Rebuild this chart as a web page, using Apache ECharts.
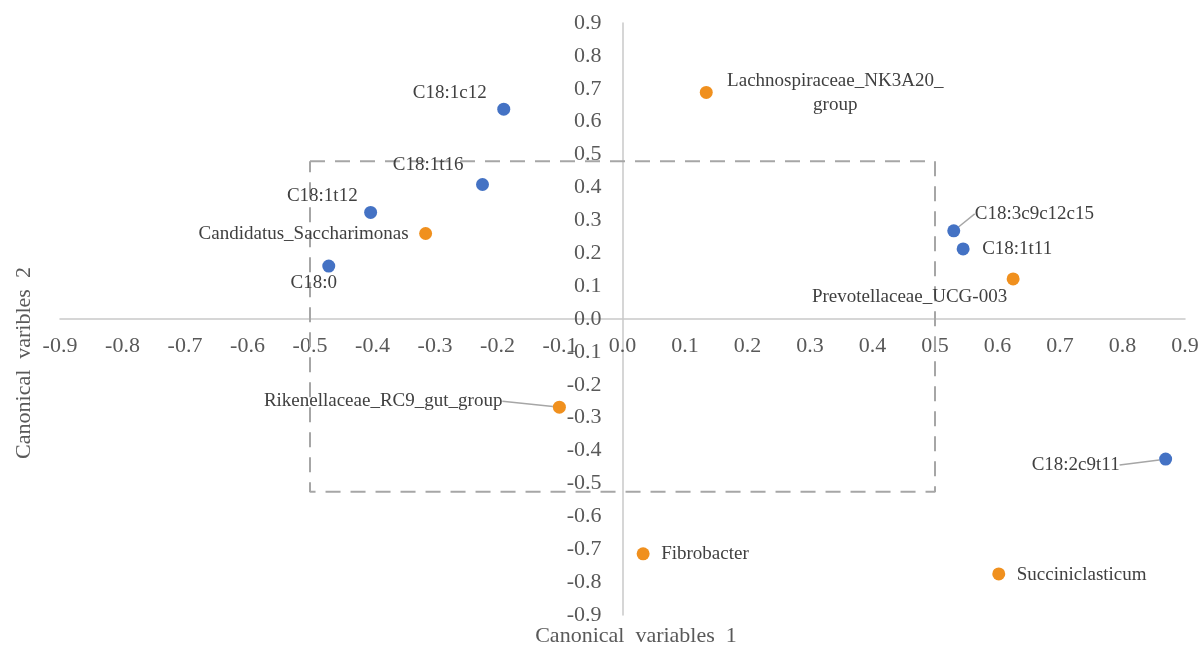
<!DOCTYPE html>
<html>
<head>
<meta charset="utf-8">
<script src="https://cdn.jsdelivr.net/npm/echarts@6/dist/echarts.min.js"></script>
<style>
html,body{margin:0;padding:0;background:#fff;}
#chart{width:1203px;height:653px;}
</style>
</head>
<body>
<div id="chart"></div>
<script>
// ---- data ----
const fattyNames = ['C18:1c12', 'C18:1t16', 'C18:1t12', 'C18:0', 'C18:3c9c12c15', 'C18:1t11', 'C18:2c9t11'];
const fattyX = [-0.19, -0.224, -0.403, -0.47, 0.53, 0.545, 0.869];
const fattyY = [0.638, 0.409, 0.324, 0.161, 0.268, 0.213, -0.426];

const bacteriaNames = ['Lachnospiraceae_NK3A20_\ngroup', 'Candidatus_Saccharimonas', 'Prevotellaceae_UCG-003', 'Rikenellaceae_RC9_gut_group', 'Fibrobacter', 'Succiniclasticum'];
const bacteriaX = [0.134, -0.315, 0.625, -0.101, 0.033, 0.602];
const bacteriaY = [0.689, 0.26, 0.122, -0.268, -0.714, -0.775];

const boxX = [-0.5, 0.5, 0.5, -0.5, -0.5];
const boxY = [0.48, 0.48, -0.525, -0.525, 0.48];

const axisMin = -0.9, axisMax = 0.9, axisStep = 0.1;
const xTitle = 'Canonical  variables  1';
const yTitle = 'Canonical  varibles  2';

// ---- label placement (style only) ----
const labelStyle = {
  'C18:1c12': {dx: -17, dy: -16, align: 'right'},
  'C18:1t16': {dx: -19, dy: -19, align: 'right'},
  'C18:1t12': {dx: -13, dy: -16, align: 'right'},
  'C18:0': {dx: -15, dy: 17, align: 'center'},
  'C18:3c9c12c15': {dx: 21, dy: -17, align: 'left', line: true},
  'C18:1t11': {dx: 19, dy: 0, align: 'left'},
  'C18:2c9t11': {dx: -46, dy: 6, align: 'right', line: true},
  'Lachnospiraceae_NK3A20_\ngroup': {dx: 129, dy: 1, align: 'center'},
  'Candidatus_Saccharimonas': {dx: -17, dy: 1, align: 'right'},
  'Prevotellaceae_UCG-003': {dx: -6, dy: 18, align: 'right'},
  'Rikenellaceae_RC9_gut_group': {dx: -57, dy: -6, align: 'right', line: true},
  'Fibrobacter': {dx: 18, dy: 0, align: 'left'},
  'Succiniclasticum': {dx: 18, dy: 1, align: 'left'}
};

const FONT = '"Liberation Serif", "Times New Roman", serif';
const W = 1203, H = 653;
const GRID = {left: 60, right: 18, top: 23, bottom: 38};
const gridW = W - GRID.left - GRID.right;
const gridH = H - GRID.top - GRID.bottom;

function buildData(names, xs, ys) {
  return names.map((n, i) => {
    const item = {name: n, value: [xs[i], ys[i]]};
    if (labelStyle[n] && labelStyle[n].line) item.labelLine = {show: true};
    return item;
  });
}
const seriesNames = [fattyNames, bacteriaNames];

function layoutFn(params) {
  const names = seriesNames[params.seriesIndex - 1];
  if (!names) return {};
  const n = names[params.dataIndex];
  const s = labelStyle[n] || {dx: 10, dy: 0, align: 'left'};
  const cx = params.rect.x + params.rect.width / 2;
  const cy = params.rect.y + params.rect.height / 2;
  return {x: cx + s.dx, y: cy + s.dy, align: s.align, verticalAlign: 'middle'};
}

function fmt(v) {
  if (Math.abs(v) < 1e-9) return '0.0';
  return v.toFixed(1);
}

// zero sits at the middle of the symmetric range: shift each axis inward to cross at zero
const zeroFracX = (0 - axisMin) / (axisMax - axisMin);
const zeroFracY = (0 - axisMin) / (axisMax - axisMin);

const chart = echarts.init(document.getElementById('chart'));
const axisCommon = {
  type: 'value',
  min: axisMin, max: axisMax, interval: axisStep,
  splitLine: {show: false},
  axisTick: {show: false},
  axisLine: {onZero: false, lineStyle: {color: '#C9C9C9', width: 1.5}},
  axisLabel: {color: '#595959', fontFamily: FONT, fontSize: 22, formatter: fmt, showMinLabel: true, showMaxLabel: true}
};
chart.setOption({
  backgroundColor: '#fff',
  animation: false,
  grid: Object.assign({containLabel: false}, GRID),
  xAxis: Object.assign({}, axisCommon, {
    position: 'bottom', offset: -gridH * zeroFracY,
    axisLabel: Object.assign({}, axisCommon.axisLabel, {margin: 16})
  }),
  yAxis: Object.assign({}, axisCommon, {
    position: 'left', offset: -gridW * zeroFracX,
    axisLabel: Object.assign({}, axisCommon.axisLabel, {margin: 21})
  }),
  graphic: [
    {type: 'text', x: 636, y: 636, style: {text: xTitle, font: '22px ' + FONT, fill: '#595959', align: 'center', verticalAlign: 'middle'}},
    {type: 'text', x: 24, y: 363, rotation: Math.PI / 2, style: {text: yTitle, font: '22px ' + FONT, fill: '#595959', align: 'center', verticalAlign: 'middle'}}
  ],
  series: [
    {
      type: 'line', data: boxX.map((x, i) => [x, boxY[i]]), symbol: 'none', silent: true,
      lineStyle: {color: '#A6A6A6', width: 2, type: [15, 10]}, z: 1
    },
    {
      type: 'scatter', name: 'fatty', data: buildData(fattyNames, fattyX, fattyY),
      symbolSize: 13, itemStyle: {color: '#4472C4', opacity: 1}, z: 3,
      label: {show: true, formatter: '{b}', color: '#404040', fontFamily: FONT, fontSize: 19},
      labelLine: {show: false, lineStyle: {color: '#A6A6A6', width: 1.5}},
      labelLayout: layoutFn
    },
    {
      type: 'scatter', name: 'bacteria', data: buildData(bacteriaNames, bacteriaX, bacteriaY),
      symbolSize: 13, itemStyle: {color: '#F0901E', opacity: 1}, z: 3,
      label: {show: true, formatter: '{b}', color: '#404040', fontFamily: FONT, fontSize: 19, lineHeight: 24},
      labelLine: {show: false, lineStyle: {color: '#A6A6A6', width: 1.5}},
      labelLayout: layoutFn
    }
  ]
});
</script>
</body>
</html>
